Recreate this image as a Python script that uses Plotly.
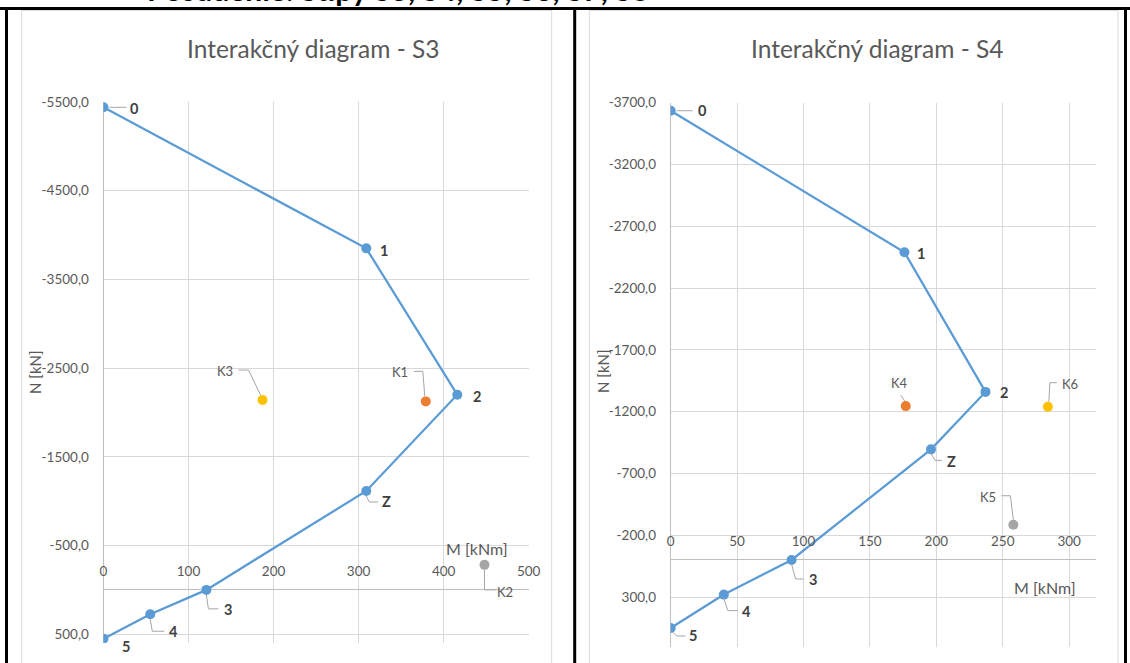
import plotly.graph_objects as go

# ---- S3 interaction diagram: (M [kNm], N [kN]) points of the envelope ----
s3_labels = ["0", "1", "2", "Z", "3", "4", "5"]
s3_m = [0, 309, 416, 309, 121, 55, 0]
s3_n = [-5440, -3850, -2200, -1115, 0, 275, 550]
# load combinations
s3_load_names = ["K1", "K2", "K3"]
s3_load_m = [379, 448, 187]
s3_load_n = [-2125, -282, -2140]
s3_n_ticks = [-5500, -4500, -3500, -2500, -1500, -500, 500]
s3_m_ticks = [0, 100, 200, 300, 400, 500]

# ---- S4 interaction diagram ----
s4_labels = ["0", "1", "2", "Z", "3", "4", "5"]
s4_m = [0, 176, 237, 196, 91, 40, 0]
s4_n = [-3635, -2490, -1360, -895, 0, 280, 550]
s4_load_names = ["K4", "K5", "K6"]
s4_load_m = [177, 258, 284]
s4_load_n = [-1245, -285, -1240]
s4_n_ticks = [-3700, -3200, -2700, -2200, -1700, -1200, -700, -200, 300]
s4_m_ticks = [0, 50, 100, 150, 200, 250, 300]

header_text = "Posúdenie: Stĺpy S3, S4, S5, S6, S7, S8"

W, H = 1130, 663
FONT = "Lato"
BLUE = "#5B9BD5"
LOAD_COLORS = ["#ED7D31", "#A5A5A5", "#FFC000"]
GRID = "#D9D9D9"
AXIS = "#BFBFBF"
TXT = "#595959"
LEADER = "#A6A6A6"


def fx(p):
    # page pixel -> paper fraction
    return p / W


def fy(p):
    return 1 - p / H


def fmt(v):
    return f"{v},0"


fig = go.Figure()

# envelope lines
fig.add_trace(go.Scatter(x=s3_m, y=s3_n, mode="lines+markers", xaxis="x", yaxis="y",
                         line=dict(color=BLUE, width=2.25),
                         marker=dict(color=BLUE, size=10), hoverinfo="skip"))
fig.add_trace(go.Scatter(x=s4_m, y=s4_n, mode="lines+markers", xaxis="x2", yaxis="y2",
                         line=dict(color=BLUE, width=2.25),
                         marker=dict(color=BLUE, size=10), hoverinfo="skip"))

# load combination points
for m, n, c in zip(s3_load_m, s3_load_n, LOAD_COLORS):
    fig.add_trace(go.Scatter(x=[m], y=[n], mode="markers", xaxis="x", yaxis="y",
                             marker=dict(color=c, size=10), hoverinfo="skip"))
for m, n, c in zip(s4_load_m, s4_load_n, LOAD_COLORS):
    fig.add_trace(go.Scatter(x=[m], y=[n], mode="markers", xaxis="x2", yaxis="y2",
                             marker=dict(color=c, size=10), hoverinfo="skip"))

shapes = []
annotations = []


def leader(xr, yr, m, n, pts):
    # pts are pixel offsets from the point, screen orientation (down = +)
    d = "M" + " L".join(f"{px},{-py}" for px, py in pts)
    shapes.append(dict(type="path", xref=xr, yref=yr, xsizemode="pixel", ysizemode="pixel",
                       xanchor=m, yanchor=n, path=d,
                       line=dict(color=LEADER, width=1)))


def label(xr, yr, m, n, text, dx, dy, bold=True):
    annotations.append(dict(xref=xr, yref=yr, x=m, y=n, xshift=dx, yshift=-dy,
                            text=f"<b>{text}</b>" if bold else text, showarrow=False,
                            xanchor="center", yanchor="middle",
                            font=dict(family=FONT, size=14.5 if bold else 13,
                                      color="#404040" if bold else TXT)))


# S3 data labels: (label offset, leader path)
s3_lab_pos = {
    "0": ((31, 1), [(6, 0), (23, 0)]),
    "1": ((18, 2), None),
    "2": ((20, 2), None),
    "Z": ((20, 11), [(0, 5), (3, 11), (12, 11)]),
    "3": ((22, 20), [(0, 5), (2, 19), (12, 19)]),
    "4": ((23, 17), [(0, 5), (2, 17), (14, 17)]),
    "5": ((22, 8), [(2, 4), (5, 7), (14, 7)]),
}
for t, m, n in zip(s3_labels, s3_m, s3_n):
    (dx, dy), path = s3_lab_pos[t]
    label("x", "y", m, n, t, dx, dy)
    if path:
        leader("x", "y", m, n, path)

s3_load_pos = {
    "K1": ((-26, -29), [(-12, -30), (-3, -30), (-1, -5)]),
    "K2": ((21, 27), [(0, 5), (0, 25), (12, 25)]),
    "K3": ((-38, -29), [(-24, -30), (-14, -30), (-2, -5)]),
}
for t, m, n in zip(s3_load_names, s3_load_m, s3_load_n):
    (dx, dy), path = s3_load_pos[t]
    label("x", "y", m, n, t, dx, dy, bold=False)
    leader("x", "y", m, n, path)

s4_lab_pos = {
    "0": ((32, 0), [(6, 0), (22, 0)]),
    "1": ((17, 1), None),
    "2": ((19, 1), None),
    "Z": ((20, 12), [(0, 4), (4, 11), (11, 11)]),
    "3": ((21, 20), [(0, 4), (4, 19), (12, 19)]),
    "4": ((23, 17), [(0, 4), (4, 16), (14, 16)]),
    "5": ((22, 8), [(2, 4), (6, 8), (15, 8)]),
}
for t, m, n in zip(s4_labels, s4_m, s4_n):
    (dx, dy), path = s4_lab_pos[t]
    label("x2", "y2", m, n, t, dx, dy)
    if path:
        leader("x2", "y2", m, n, path)

s4_load_pos = {
    "K4": ((-6, -23), [(-5, -11), (-1, -5)]),
    "K5": ((-25, -28), [(-12, -29), (-3, -29), (0, -5)]),
    "K6": ((22, -23), [(9, -24), (2, -24), (1, -5)]),
}
for t, m, n in zip(s4_load_names, s4_load_m, s4_load_n):
    (dx, dy), path = s4_load_pos[t]
    label("x2", "y2", m, n, t, dx, dy, bold=False)
    leader("x2", "y2", m, n, path)

# chart frames and page borders
for x0, x1 in [(21.7, 551.7), (589.3, 1118)]:
    shapes.append(dict(type="rect", xref="paper", yref="paper", x0=fx(x0), x1=fx(x1),
                       y0=fy(670), y1=fy(10.5), line=dict(color=GRID, width=1),
                       fillcolor="rgba(0,0,0,0)", layer="below"))
for xb in [6.5, 574.7, 1125.5]:
    shapes.append(dict(type="line", xref="paper", yref="paper", x0=fx(xb), x1=fx(xb),
                       y0=fy(670), y1=fy(7), line=dict(color="black", width=3)))
shapes.append(dict(type="line", xref="paper", yref="paper", x0=0, x1=1, y0=fy(8.5), y1=fy(8.5),
                   line=dict(color="black", width=3)))

# titles and axis titles
annotations += [
    dict(xref="paper", yref="paper", x=fx(313), y=fy(48.5), text="Interakčný diagram - S3",
         showarrow=False, xanchor="center", yanchor="middle",
         font=dict(family=FONT, size=24.5, color=TXT)),
    dict(xref="paper", yref="paper", x=fx(877), y=fy(48.5), text="Interakčný diagram - S4",
         showarrow=False, xanchor="center", yanchor="middle",
         font=dict(family=FONT, size=24.5, color=TXT)),
    dict(xref="paper", yref="paper", x=fx(35), y=fy(372), text="N [kN]", textangle=-90,
         showarrow=False, xanchor="center", yanchor="middle",
         font=dict(family=FONT, size=15, color=TXT)),
    dict(xref="paper", yref="paper", x=fx(603), y=fy(371), text="N [kN]", textangle=-90,
         showarrow=False, xanchor="center", yanchor="middle",
         font=dict(family=FONT, size=15, color=TXT)),
    dict(xref="paper", yref="paper", x=fx(477), y=fy(548), text="M [kNm]",
         showarrow=False, xanchor="center", yanchor="middle",
         font=dict(family=FONT, size=16, color=TXT)),
    dict(xref="paper", yref="paper", x=fx(1045), y=fy(587), text="M [kNm]",
         showarrow=False, xanchor="center", yanchor="middle",
         font=dict(family=FONT, size=16, color=TXT)),
    dict(xref="paper", yref="paper", x=fx(398), y=fy(9), text=f"<b>{header_text}</b>",
         showarrow=False, xanchor="center", yanchor="bottom",
         font=dict(family=FONT, size=30, color="black")),
]

tickfont = dict(family=FONT, size=13.5, color=TXT)

common_x = dict(showgrid=True, gridcolor=GRID, gridwidth=1, zeroline=True, zerolinecolor=AXIS,
                zerolinewidth=1, showline=False, ticks="", tickfont=tickfont, anchor="free",
                fixedrange=True, automargin=False)
common_y = dict(showgrid=True, gridcolor=GRID, gridwidth=1, zeroline=True, zerolinecolor=AXIS,
                zerolinewidth=1, showline=False, ticks="outside", ticklen=0, tickfont=tickfont,
                fixedrange=True, ticklabelstandoff=11, automargin=False)

fig.update_layout(
    width=W, height=H, margin=dict(l=0, r=0, t=0, b=0, autoexpand=False),
    paper_bgcolor="white", plot_bgcolor="white", showlegend=False,
    xaxis=dict(common_x, domain=[fx(103.5), fx(528.7)], range=[0, 500],
               tickvals=s3_m_ticks, ticktext=[str(v) for v in s3_m_ticks],
               position=fy(561)),
    yaxis=dict(common_y, domain=[fy(643.1), fy(102)], range=[600, -5500],
               tickvals=s3_n_ticks, ticktext=[fmt(v) for v in s3_n_ticks], anchor="x"),
    xaxis2=dict(common_x, domain=[fx(670.7), fx(1095.7)], range=[0, 320],
                tickvals=s4_m_ticks, ticktext=[str(v) for v in s4_m_ticks],
                position=fy(531)),
    yaxis2=dict(common_y, domain=[fy(646.5), fy(102.7)], range=[700, -3700],
                tickvals=s4_n_ticks, ticktext=[fmt(v) for v in s4_n_ticks], anchor="x2"),
    shapes=shapes,
    annotations=annotations,
)

fig.write_html("out.html")
